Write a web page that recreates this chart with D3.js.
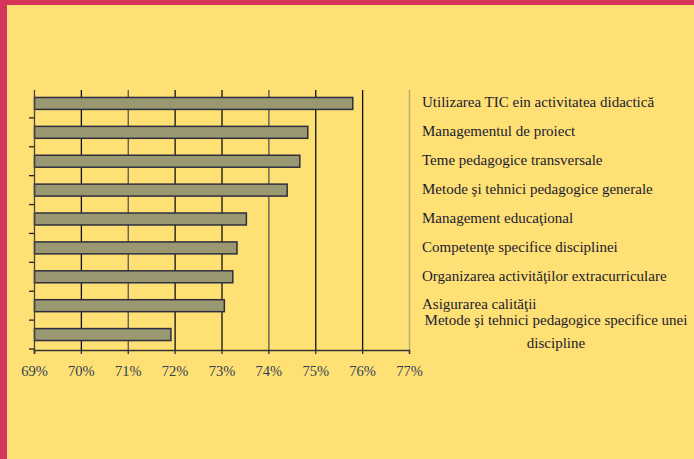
<!DOCTYPE html>
<html>
<head>
<meta charset="utf-8">
<script src="https://cdn.jsdelivr.net/npm/d3@7"></script>
<style>
  body { margin: 0; background: #FFE074; }
  svg { display: block; }
</style>
</head>
<body>
<svg width="694" height="459"></svg>
<script>
// Data
var categories = [
  "Utilizarea TIC ein activitatea didactică",
  "Managementul de proiect",
  "Teme pedagogice transversale",
  "Metode şi tehnici pedagogice generale",
  "Management educaţional",
  "Competenţe specifice disciplinei",
  "Organizarea activităţilor extracurriculare",
  "Asigurarea calităţii",
  "Metode şi tehnici pedagogice specifice unei discipline"
];
var values = [0.7579, 0.7483, 0.7466, 0.7439, 0.7352, 0.7332, 0.7323, 0.7305, 0.7191];
var tickValues = [0.69, 0.70, 0.71, 0.72, 0.73, 0.74, 0.75, 0.76, 0.77];
// last label is split over two lines, centered
var lastLabelLines = ["Metode şi tehnici pedagogice specifice unei", "discipline"];

var svg = d3.select("svg");

// page frame: red bands at top and left
svg.append("rect").attr("x", 0).attr("y", 0).attr("width", 694).attr("height", 459).attr("fill", "#FFE074");
svg.append("rect").attr("x", 0).attr("y", 0).attr("width", 694).attr("height", 5).attr("fill", "#D43558");
svg.append("rect").attr("x", 0).attr("y", 0).attr("width", 7).attr("height", 459).attr("fill", "#D43558");

var x = d3.scaleLinear().domain([0.69, 0.77]).range([34, 409]);
var y = d3.scaleBand().domain(categories).range([88.5, 349.5])
  .paddingInner(0.586).paddingOuter(0.31);

var plotTop = 90, plotBottom = 350;

// vertical gridlines
svg.append("g").selectAll("line")
  .data(tickValues.slice(1, -1))
  .enter().append("line")
  .attr("x1", d => x(d) + 0.5).attr("x2", d => x(d) + 0.5)
  .attr("y1", plotTop).attr("y2", plotBottom)
  .attr("stroke", (d, i) => i % 3 == 1 ? "#555" : "#111")
  .attr("stroke-width", 1.3);

// right edge of plot area
svg.append("line")
  .attr("x1", x(0.77) + 0.5).attr("x2", x(0.77) + 0.5)
  .attr("y1", plotTop).attr("y2", plotBottom)
  .attr("stroke", "#B5AE78").attr("stroke-width", 1.5);

// bars
svg.append("g").selectAll("rect")
  .data(values)
  .enter().append("rect")
  .attr("x", x(0.69) + 0.5)
  .attr("y", (d, i) => y(categories[i]))
  .attr("width", d => x(d) - x(0.69))
  .attr("height", y.bandwidth())
  .attr("fill", "#999871")
  .attr("stroke", "#2E2E40")
  .attr("stroke-width", 1.5);

// left axis with ticks between the bands
svg.append("line")
  .attr("x1", x(0.69) + 0.5).attr("x2", x(0.69) + 0.5)
  .attr("y1", plotTop).attr("y2", plotBottom + 4)
  .attr("stroke", "#444").attr("stroke-width", 1.3);
var gap = (y.step() - y.bandwidth()) / 2;
svg.append("g").selectAll("line")
  .data(categories)
  .enter().append("line")
  .attr("x1", x(0.69) - 5).attr("x2", x(0.69))
  .attr("y1", d => y(d) + y.bandwidth() + gap)
  .attr("y2", d => y(d) + y.bandwidth() + gap)
  .attr("stroke", "#222").attr("stroke-width", 1.3);

// bottom axis
var xAxis = d3.axisBottom(x)
  .tickValues(tickValues)
  .tickFormat(d3.format(".0%"))
  .tickSize(4)
  .tickPadding(12);
var ga = svg.append("g").attr("transform", "translate(0," + plotBottom + ")").call(xAxis);
ga.select(".domain").attr("stroke", "#333").attr("stroke-width", 1.3);
ga.selectAll(".tick line").attr("stroke", "#333").attr("stroke-width", 1.3);
ga.selectAll(".tick text")
  .attr("fill", "#2F3F55")
  .style("font-family", "'Liberation Serif', 'Times New Roman', serif")
  .style("font-size", "14.5px");

// category labels on the right
var labels = svg.append("g")
  .style("font-family", "'Liberation Serif', 'Times New Roman', serif")
  .style("font-size", "15px")
  .attr("fill", "#1B1B30");

labels.selectAll("text.lab")
  .data(categories.slice(0, -1))
  .enter().append("text")
  .attr("class", "lab")
  .attr("x", 422)
  .attr("y", (d, i) => y(d) + y.bandwidth() / 2 + (i == 7 ? 3 : 4))
  .text(d => d);

var lastY = y(categories[categories.length - 1]) + y.bandwidth() / 2;
labels.selectAll("text.last")
  .data(lastLabelLines)
  .enter().append("text")
  .attr("class", "last")
  .attr("x", 556)
  .attr("text-anchor", "middle")
  .attr("y", (d, i) => lastY - 10 + i * 23)
  .text(d => d);
</script>
</body>
</html>
